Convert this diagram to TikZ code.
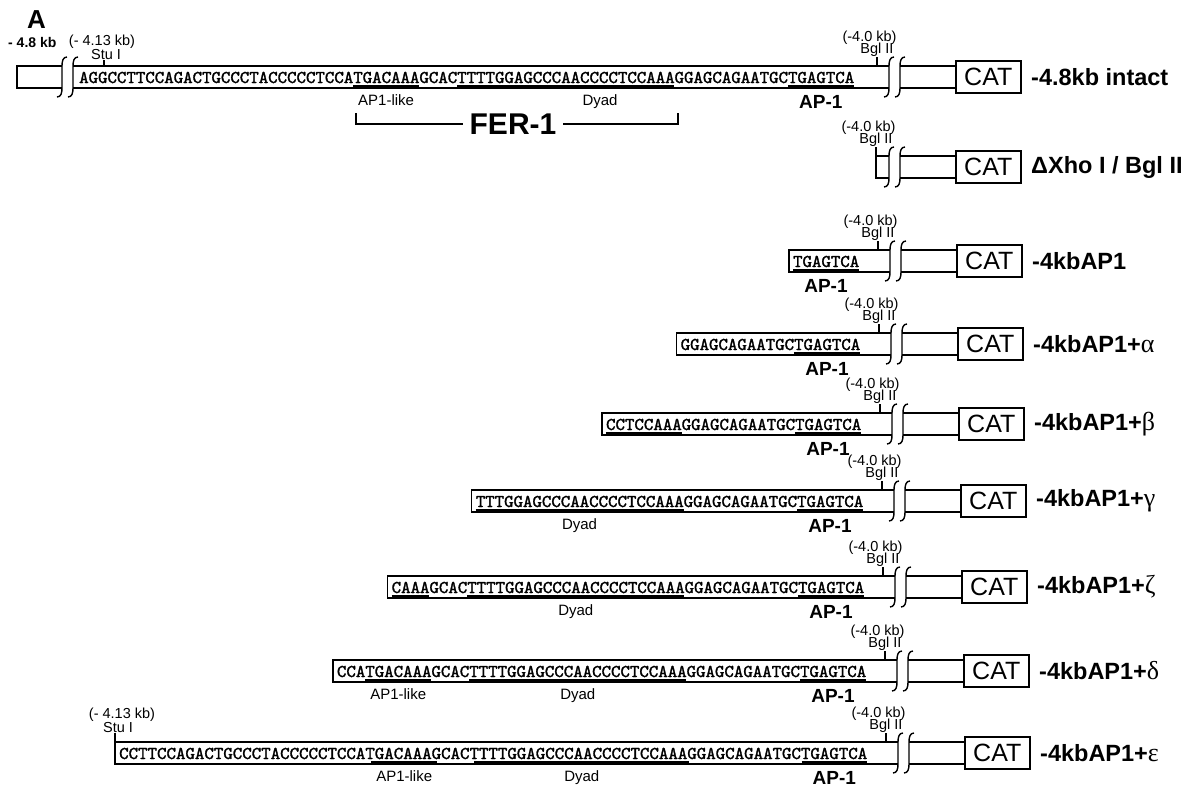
\documentclass[tikz,border=0pt]{standalone}
\usepackage{fontspec}
\usepackage{graphicx}
\setmainfont{Liberation Sans}
\newfontfamily\grk{Liberation Serif}
\newfontfamily\seqfont{lmmono10-regular.otf}[FakeBold=1.6]
\newcommand\gk[1]{{\fontsize{26}{26}\selectfont\grk\mdseries #1}}
\tikzset{
  box/.style={line width=1.6pt},
  brkline/.style={line width=1.4pt},
  tick/.style={line width=1.2pt},
  ulsty/.style={line width=3pt},
  seq/.style={inner sep=0pt, font=\fontsize{18}{18}\selectfont\seqfont},
  small/.style={inner sep=0pt, font=\fontsize{14.5}{14.5}\selectfont},
  mid/.style={inner sep=0pt, font=\fontsize{15}{15}\selectfont},
  apone/.style={inner sep=0pt, font=\fontsize{19}{19}\selectfont\bfseries},
  catbox/.style={draw, line width=1.6pt, minimum width=65pt, minimum height=32pt, inner sep=0pt, font=\fontsize{25}{25}\selectfont},
  rlab/.style={inner sep=0pt, font=\fontsize{23.5}{23.5}\selectfont\bfseries},
  fer/.style={inner sep=6pt, font=\fontsize{30}{30}\selectfont\bfseries},
}
% break mark (integral-like stroke): x, top, bottom
\newcommand\brkmark[3]{\draw[brkline] ({#1+5},{#2-9}) .. controls ({#1+1},{#2-9}) and ({#1},{#2-5}) .. ({#1},{#2}) -- ({#1},{#3}) .. controls ({#1},{#3+5}) and ({#1-1},{#3+9}) .. ({#1-5},{#3+9});}
% right part: d, T, id, label
\newcommand\rpart[4]{%
  \brkmark{889+#1}{#2}{#2+22}
  \brkmark{900+#1}{#2}{#2+22}
  \node[catbox,anchor=west] (cat#3) at ({955+#1},{#2+11}) {CAT};
  \draw[box] ({900+#1},#2) -- (cat#3.west |- {(0,#2)});
  \draw[box] ({900+#1},{#2+22}) -- (cat#3.west |- {(0,#2+22)});
  \node[rlab,anchor=west] (lab#3) at ({1031+#1},{#2+11}) {#4};}
% Bgl II site: x, T, id
\newcommand\bglsite[3]{%
  \node[small,anchor=south] (bgl#3) at (#1,{#2-9}) {Bgl II};
  \node[small,anchor=south east] (kb#3) at ([xshift=3pt,yshift=-1.5pt]bgl#3.north east) {(-4.0 kb)};
  \draw[tick] (bgl#3.south) -- ++(0,9);}
% sequence row: id, d, T, S, n, cw, text, label
\newcommand\seqrow[8]{%
  \draw[box] ({889+#2},#3) -- ({#4-4},#3) -- ({#4-4},{#3+22}) -- ({889+#2},{#3+22});
  \pgfmathsetmacro\seqw{#5*#6}%
  \node[seq,anchor=base west] (seq#1) at (#4,{#3+17}) {\resizebox{\seqw pt}{!}{#7}};
  \bglsite{877+#2}{#3}{#1}
  \rpart{#2}{#3}{#1}{#8}}
% underline: S, cw, i, j, y
\newcommand\ulseg[5]{\draw[ulsty] ({#1+#3*#2},#5) -- ({#1+(#4+1)*#2},#5);}
\begin{document}
\begin{tikzpicture}[x=1pt,y=-1pt]
\useasboundingbox (0,0) rectangle (1188,793);
\fill[white] (0,0) rectangle (1188,793);

% ---------- row 1: intact ----------
\node[inner sep=0pt, font=\fontsize{26}{26}\selectfont\bfseries, anchor=base west] (A) at (27,28) {A};
\node[inner sep=0pt, font=\fontsize{14}{14}\selectfont\bfseries, anchor=base west] (kb48) at (8,47) {- 4.8 kb};
\draw[box] (62,66) -- (17,66) -- (17,88) -- (62,88);
\brkmark{62}{66}{88}
\brkmark{73}{66}{88}
\draw[box] (73,66) -- (889,66) (73,88) -- (889,88);
\node[seq,anchor=base west] (seq1) at (79,83) {\resizebox{775pt}{!}{AGGCCTTCCAGACTGCCCTACCCCCTCCATGACAAAGCACTTTTGGAGCCCAACCCCTCCAAAGGAGCAGAATGCTGAGTCA}};
\ulseg{79}{9.45}{29}{35}{86}
\ulseg{79}{9.45}{40}{62}{86}
\ulseg{79}{9.45}{75}{81}{86}
\node[small,anchor=south] (stu1) at (106,60) {Stu I};
\node[small,anchor=south] (kbstu1) at ([xshift=-4pt,yshift=1pt]stu1.north) {(- 4.13 kb)};
\draw[tick] (stu1.south) ++(-2,0) -- ++(0,6);
\node[mid,anchor=north] (ap1like1) at ({79+32.5*9.45},94) {AP1-like};
\node[mid,anchor=north] (dyad1) at (600,94) {Dyad};
\node[apone,anchor=north] (aplab1) at ({79+78.5*9.45},95) {AP-1};
\bglsite{877}{66}{1}
\rpart{0}{66}{1}{-4.8kb intact}
% FER-1 bracket
\coordinate (fl) at (356,113);
\coordinate (fr) at (678,113);
\node[fer] (fer) at (513,124) {FER-1};
\draw[tick] (fl) |- (fer.west);
\draw[tick] (fr) |- (fer.east);

% ---------- row 2: delta Xho I / Bgl II ----------
\draw[box] (889,156) -- (876,156) -- (876,178) -- (889,178);
\bglsite{876}{156}{2}
\rpart{0}{156}{2}{ΔXho I / Bgl II}

% ---------- row 3: -4kbAP1 ----------
\seqrow{3}{1}{250}{792.9}{7}{9.45}{TGAGTCA}{-4kbAP1}
\ulseg{792.9}{9.45}{0}{6}{270}
\node[apone,anchor=north] (aplab3) at ({792.9+3.5*9.45},279) {AP-1};

% ---------- row 4: alpha ----------
\seqrow{4}{2}{333}{680.5}{19}{9.45}{GGAGCAGAATGCTGAGTCA}{-4kbAP1+\gk{α}}
\ulseg{680.5}{9.45}{12}{18}{353}
\node[apone,anchor=north] (aplab4) at ({680.5+15.5*9.45},362) {AP-1};

% ---------- row 5: beta ----------
\seqrow{5}{3}{413}{605.9}{27}{9.45}{CCTCCAAAGGAGCAGAATGCTGAGTCA}{-4kbAP1+\gk{β}}
\ulseg{605.9}{9.45}{0}{7}{433}
\ulseg{605.9}{9.45}{20}{26}{433}
\node[apone,anchor=north] (aplab5) at ({605.9+23.5*9.45},442) {AP-1};

% ---------- row 6: gamma ----------
\seqrow{6}{5}{490}{475.6}{41}{9.45}{TTTGGAGCCCAACCCCTCCAAAGGAGCAGAATGCTGAGTCA}{-4kbAP1+\gk{γ}}
\ulseg{475.6}{9.45}{0}{21}{510}
\ulseg{475.6}{9.45}{34}{40}{510}
\node[mid,anchor=north] (dyad6) at ({475.6+11*9.45},518) {Dyad};
\node[apone,anchor=north] (aplab6) at ({475.6+37.5*9.45},519) {AP-1};

% ---------- row 7: zeta ----------
\seqrow{7}{6}{576}{391.5}{50}{9.45}{CAAAGCACTTTTGGAGCCCAACCCCTCCAAAGGAGCAGAATGCTGAGTCA}{-4kbAP1+\gk{ζ}}
\ulseg{391.5}{9.45}{0}{3}{596}
\ulseg{391.5}{9.45}{8}{30}{596}
\ulseg{391.5}{9.45}{43}{49}{596}
\node[mid,anchor=north] (dyad7) at ({391.5+19.5*9.45},604) {Dyad};
\node[apone,anchor=north] (aplab7) at ({391.5+46.5*9.45},605) {AP-1};

% ---------- row 8: delta ----------
\seqrow{8}{8}{660}{336.8}{56}{9.45}{CCATGACAAAGCACTTTTGGAGCCCAACCCCTCCAAAGGAGCAGAATGCTGAGTCA}{-4kbAP1+\gk{δ}}
\ulseg{336.8}{9.45}{3}{9}{680}
\ulseg{336.8}{9.45}{14}{36}{680}
\ulseg{336.8}{9.45}{49}{55}{680}
\node[mid,anchor=north] (ap1like8) at ({336.8+6.5*9.45},688) {AP1-like};
\node[mid,anchor=north] (dyad8) at ({336.8+25.5*9.45},688) {Dyad};
\node[apone,anchor=north] (aplab8) at ({336.8+52.5*9.45},689) {AP-1};

% ---------- row 9: epsilon ----------
\seqrow{9}{9}{742}{119}{80}{9.35}{CCTTCCAGACTGCCCTACCCCCTCCATGACAAAGCACTTTTGGAGCCCAACCCCTCCAAAGGAGCAGAATGCTGAGTCA}{-4kbAP1+\gk{ε}}
\ulseg{119}{9.35}{27}{33}{762}
\ulseg{119}{9.35}{38}{60}{762}
\ulseg{119}{9.35}{73}{79}{762}
\node[small,anchor=south] (stu9) at (118,733) {Stu I};
\node[small,anchor=south] (kbstu9) at ([xshift=4pt,yshift=1pt]stu9.north) {(- 4.13 kb)};
\draw[tick] (115,733) -- (115,742);
\node[mid,anchor=north] (ap1like9) at ({119+30.5*9.35},770) {AP1-like};
\node[mid,anchor=north] (dyad9) at ({119+49.5*9.35},770) {Dyad};
\node[apone,anchor=north] (aplab9) at ({119+76.5*9.35},771) {AP-1};
\end{tikzpicture}
\end{document}
